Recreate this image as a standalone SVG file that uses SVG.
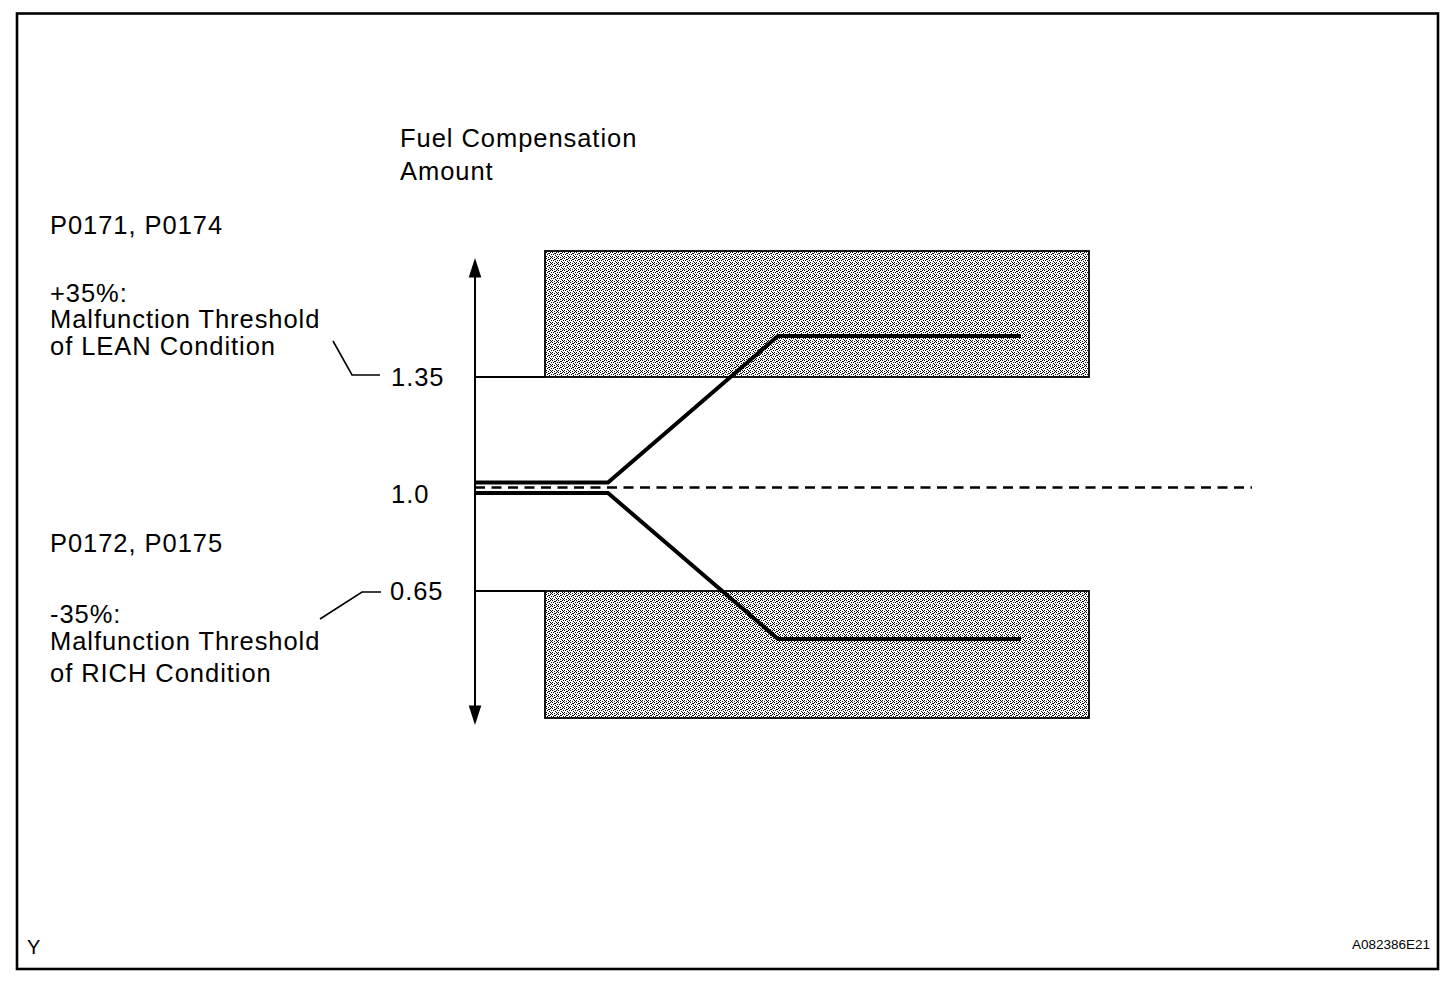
<svg xmlns="http://www.w3.org/2000/svg" width="1456" height="992" viewBox="0 0 1456 992">
<style>
.t{font-family:"Liberation Sans",Arial,sans-serif;font-size:25.5px;letter-spacing:0.95px;fill:#000}
.thin{stroke:#000;stroke-width:1.6;fill:none}
.thick{stroke:#000;stroke-width:4;fill:none;stroke-linejoin:miter}
.box{fill:url(#dots);stroke:#000;stroke-width:1.8}
.head{fill:#000}
</style>
<defs>
<pattern id="dots" width="6" height="6" patternUnits="userSpaceOnUse">
<rect width="6" height="6" fill="#fff"/>
<g fill="#000" shape-rendering="crispEdges">
<rect x="0" y="0" width="1" height="1"/><rect x="2" y="1" width="1" height="1"/><rect x="4" y="0" width="1" height="1"/>
<rect x="1" y="2" width="1" height="1"/><rect x="3" y="3" width="1" height="1"/><rect x="5" y="2" width="1" height="1"/>
<rect x="0" y="4" width="1" height="1"/><rect x="2" y="5" width="1" height="1"/><rect x="4" y="4" width="1" height="1"/>
<rect x="5" y="5" width="1" height="1"/><rect x="3" y="1" width="1" height="1"/>
</g>
</pattern>
</defs>
<rect x="0" y="0" width="1456" height="992" fill="#fff"/>
<rect id="frame" x="17" y="13.5" width="1421" height="955.5" fill="none" stroke="#000" stroke-width="2.6"/>

<g id="band-lean"><rect class="box" x="545" y="251" width="544" height="126"/></g>
<g id="band-rich"><rect class="box" x="545" y="591" width="544" height="127"/></g>

<g id="connectors">
<line x1="475" y1="276" x2="475" y2="707" stroke="#000" stroke-width="2"/>
<polygon class="head" points="475,258 468.7,277.5 481.3,277.5"/>
<polygon class="head" points="475,725 468.7,705.5 481.3,705.5"/>
<line x1="475" y1="377" x2="545" y2="377" stroke="#000" stroke-width="2.2"/>
<line x1="475" y1="591" x2="545" y2="591" stroke="#000" stroke-width="2.2"/>
<line x1="475" y1="487.5" x2="1252" y2="487.5" stroke="#000" stroke-width="2.6" stroke-dasharray="10 6.5"/>
<polyline class="thick" points="475,482.5 608,482.5 778,336 1021,336"/>
<polyline class="thick" points="475,493 608,493 778,639 1021,639"/>
<polyline class="thin" points="333,341 352,375 380,375"/>
<polyline class="thin" points="320,619 362,592 381,592"/>
</g>

<g id="labels">
<text class="t" x="400" y="147">Fuel Compensation</text>
<text class="t" x="400" y="180">Amount</text>
<text class="t" x="50" y="234">P0171, P0174</text>
<text class="t" x="50" y="302">+35%:</text>
<text class="t" x="50" y="328">Malfunction Threshold</text>
<text class="t" x="50" y="355">of LEAN Condition</text>
<text class="t" x="391" y="386">1.35</text>
<text class="t" x="391" y="503">1.0</text>
<text class="t" x="50" y="552">P0172, P0175</text>
<text class="t" x="390" y="600">0.65</text>
<text class="t" x="50" y="623">-35%:</text>
<text class="t" x="50" y="650">Malfunction Threshold</text>
<text class="t" x="50" y="682">of RICH Condition</text>
<text class="t" x="27" y="954" style="font-size:20px;letter-spacing:0">Y</text>
<text class="t" x="1430" y="949" text-anchor="end" style="font-size:13.5px;letter-spacing:0">A082386E21</text>
</g>
</svg>
